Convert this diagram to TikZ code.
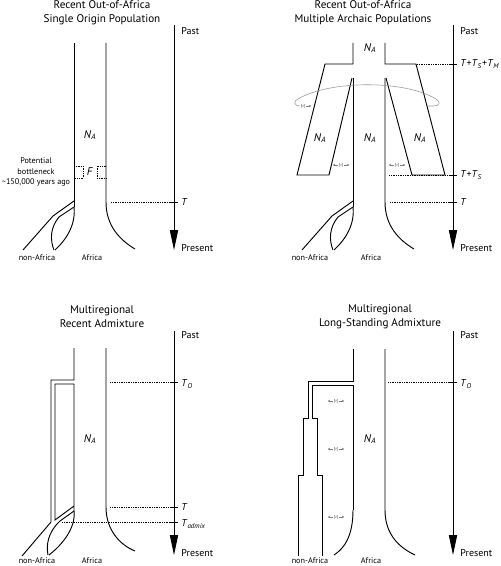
\documentclass[tikz,border=0pt]{standalone}
\usepackage{fontspec}
\setmainfont{PT Sans}
\usetikzlibrary{arrows.meta}

\tikzset{
  wall/.style={line width=0.8pt},
  guide/.style={densely dotted, line width=0.5pt},
  axis/.style={line width=0.8pt, -{Triangle[width=7pt,length=17pt]}},
  ttl/.style={align=center, font=\fontsize{9.5}{12}\selectfont},
  tlab/.style={anchor=west, font=\fontsize{8.5}{10}\selectfont, inner sep=1pt},
  poplab/.style={font=\fontsize{7}{9}\selectfont, inner sep=1pt},
  size/.style={font=\fontsize{9.5}{11}\selectfont},
  mig/.style={gray, font=\fontsize{5}{5}\selectfont, inner sep=0.6pt},
  migline/.style={gray, line width=0.4pt, -{Stealth[length=2pt,width=2pt]}},
  arcline/.style={gray!80, line width=0.5pt},
}
\newcommand{\Tsub}[1]{\textit{T}\textsubscript{\textit{#1}}}
\newcommand{\NA}{\textit{N}\textsubscript{\textit{A}}}
\newcommand{\mpair}[3]{%
  \node[mig] (#1) at (#2,#3) {M};
  \draw[migline] (#1.west) -- ++(-5,0);
  \draw[migline] (#1.east) -- ++(5,0);}

\begin{document}
\begin{tikzpicture}[x=0.03cm, y=-0.03cm, >=stealth]
    \useasboundingbox (0,0) rectangle (500,566);

    % recent out-of-africa, single origin
    \node[ttl] (ttl1) at (102,13) {Recent Out-of-Africa\\Single Origin Population};
    \draw[wall] (74,43) -- (74,207);
    \draw[wall] (106,43) -- (106,202) .. controls (106,226) and (120,240) .. (135,249);
    \begin{scope}[shift={(0,0)}]
        \draw[wall] (74,201) -- (53,216) -- (23,250);
        \draw[wall] (74,207) -- (59,217);
        \draw[wall] (74,207) .. controls (76,225) and (66,240) .. (55,250);
        \draw[wall] (59,217) .. controls (50,228) and (50,240) .. (54,250);
    \end{scope}
    \node[size] (na1) at (90,135) {\NA};
    \draw[guide] (74,166) -- (83,166) -- (83,178) -- (74,178);
    \draw[guide] (106,166) -- (97,166) -- (97,178) -- (106,178);
    \node[size] (f1) at (90,172) {\textit{F}};
    \node[poplab, align=center] (bn1) at (36,172) {Potential\\bottleneck\\\textasciitilde150,000 years ago};
    \node[poplab] (nonaf1) at (37,258) {non-Africa};
    \node[poplab] (af1) at (92,258) {Africa};
    \coordinate (a1t) at (174,25);
    \coordinate (a1b) at (174,250);
    \draw[axis] (a1t) -- (a1b);
    \node[tlab] (past1) at (180,31) {Past};
    \node[tlab] (pres1) at (180,248) {Present};
    \coordinate (t1) at (174,202);
    \draw[guide] (111,202) -- (t1);
    \draw[wall] (t1) ++(-4,0) -- ++(8,0);
    \node[tlab] (tl1) at (180,202) {\textit{T}};

    % recent out-of-africa, archaic populations
    \node[ttl] (ttl2) at (363,13) {Recent Out-of-Africa\\Multiple Archaic Populations};
    \draw[wall] (353,43) -- (353,64) -- (325,64) -- (297,175) -- (329,175) -- (352,78);
    \draw[wall] (385,43) -- (385,64) -- (416,64) -- (445,175) -- (412,175) -- (386,78);
    \draw[wall] (353,78) -- (353,207);
    \draw[wall] (385,78) -- (385,202) .. controls (385,226) and (399,240) .. (414,249);
    \begin{scope}[shift={(279,0)}]
        \draw[wall] (74,201) -- (53,216) -- (23,250);
        \draw[wall] (74,207) -- (59,217);
        \draw[wall] (74,207) .. controls (76,225) and (66,240) .. (55,250);
        \draw[wall] (59,217) .. controls (50,228) and (50,240) .. (54,250);
    \end{scope}
    \node[size] (na2) at (370,48) {\NA};
    \node[size] (na2l) at (320,138) {\NA};
    \node[size] (na2c) at (370,138) {\NA};
    \node[size] (na2r) at (420,138) {\NA};
    \mpair{m2l}{341}{165}
    \mpair{m2r}{397}{165}
    \node[mig] (marc) at (303,106) {M};
    \draw[arcline] (marc.west) .. controls (294,106) and (293,101) .. (298,99)
        .. controls (330,80) and (405,80) .. (436,99)
        .. controls (441,102) and (440,106) .. (434,106) -- (428,106);
    \draw[migline] (marc.east) -- ++(5,0);
    \node[poplab] (nonaf2) at (310,258) {non-Africa};
    \node[poplab] (af2) at (371,258) {Africa};
    \coordinate (a2t) at (453,25);
    \coordinate (a2b) at (453,250);
    \draw[axis] (a2t) -- (a2b);
    \node[tlab] (past2) at (459,31) {Past};
    \node[tlab] (pres2) at (459,248) {Present};
    \coordinate (t2a) at (453,64);
    \coordinate (t2b) at (453,175);
    \coordinate (t2c) at (453,202);
    \draw[guide] (417,64) -- (t2a);
    \draw[guide] (389,175) -- (t2b);
    \draw[guide] (390,202) -- (t2c);
    \foreach \t in {t2a,t2b,t2c}
        \draw[wall] (\t) ++(-4,0) -- ++(8,0);
    \node[tlab] (tl2a) at (459,64) {\textit{T}+\Tsub{S}+\Tsub{M}};
    \node[tlab] (tl2b) at (459,175) {\textit{T}+\Tsub{S}};
    \node[tlab] (tl2c) at (459,202) {\textit{T}};

    % multiregional, recent admixture
    \node[ttl] (ttl3) at (102,317) {Multiregional\\Recent Admixture};
    \draw[wall] (74,348) -- (74,380) -- (51,380) -- (51,522) -- (22,556);
    \draw[wall] (74,511) -- (74,384) -- (55,384) -- (55,520) -- (74,506);
    \draw[wall] (74,511) -- (60,521);
    \draw[wall] (74,511) .. controls (76,528) and (62,545) .. (49,555);
    \draw[wall] (60,521) .. controls (48,532) and (46,545) .. (48,555);
    \draw[wall] (106,348) -- (106,507) .. controls (106,530) and (120,545) .. (135,551);
    \node[size] (na3) at (90,439) {\NA};
    \node[poplab] (nonaf3) at (37,561) {non-Africa};
    \node[poplab] (af3) at (92,561) {Africa};
    \coordinate (a3t) at (174,331);
    \coordinate (a3b) at (174,555);
    \draw[axis] (a3t) -- (a3b);
    \node[tlab] (past3) at (180,335) {Past};
    \node[tlab] (pres3) at (180,553) {Present};
    \coordinate (t3a) at (174,382);
    \coordinate (t3b) at (174,507);
    \coordinate (t3c) at (174,522);
    \draw[guide] (110,382) -- (t3a);
    \draw[guide] (110,507) -- (t3b);
    \draw[guide] (62,522) -- (t3c);
    \foreach \t in {t3a,t3b,t3c}
        \draw[wall] (\t) ++(-4,0) -- ++(8,0);
    \node[tlab] (tl3a) at (180,384) {\Tsub{O}};
    \node[tlab] (tl3b) at (180,507) {\textit{T}};
    \node[tlab] (tl3c) at (180,524) {\Tsub{admix}};

    % multiregional, long-standing admixture
    \node[ttl] (ttl4) at (380,317) {Multiregional\\Long-Standing Admixture};
    \draw[wall] (353,349) -- (353,381) -- (308,381) -- (308,418) -- (303,418)
        -- (303,475) -- (298,475) -- (298,556);
    \draw[wall] (353,510) -- (353,385) -- (312,385) -- (312,418) -- (317,418)
        -- (317,475) -- (322,475) -- (322,556);
    \draw[wall] (353,510) .. controls (353,535) and (345,548) .. (334,555);
    \draw[wall] (385,349) -- (385,510) .. controls (385,535) and (400,548) .. (415,555);
    \mpair{m4a}{336}{401}
    \mpair{m4b}{336}{449}
    \mpair{m4c}{336}{517}
    \node[size] (na4) at (370,439) {\NA};
    \node[poplab] (nonaf4) at (310,561) {non-Africa};
    \node[poplab] (af4) at (371,561) {Africa};
    \coordinate (a4t) at (453,331);
    \coordinate (a4b) at (453,555);
    \draw[axis] (a4t) -- (a4b);
    \node[tlab] (past4) at (459,335) {Past};
    \node[tlab] (pres4) at (459,553) {Present};
    \coordinate (t4a) at (453,382);
    \draw[guide] (388,382) -- (t4a);
    \draw[wall] (t4a) ++(-4,0) -- ++(8,0);
    \node[tlab] (tl4a) at (459,384) {\Tsub{O}};
\end{tikzpicture}
\end{document}
